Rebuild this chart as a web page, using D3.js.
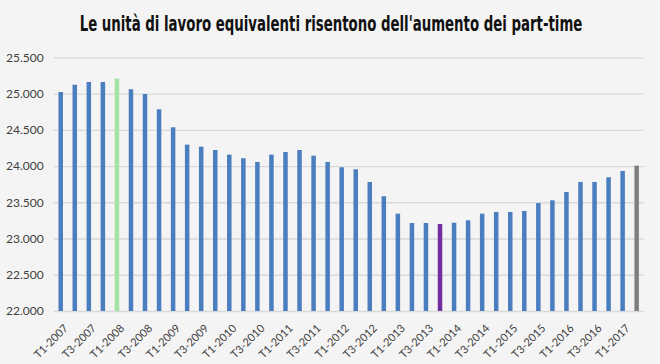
<!DOCTYPE html>
<html>
<head>
<meta charset="utf-8">
<script src="https://cdn.jsdelivr.net/npm/d3@7"></script>
<style>
  body { margin: 0; background: #f4f4f4; }
  svg { display: block; }
</style>
</head>
<body>
<div id="graph"></div>
<script>
// data
var quarters = [
  "T1-2007", "T2-2007", "T3-2007", "T4-2007",
  "T1-2008", "T2-2008", "T3-2008", "T4-2008",
  "T1-2009", "T2-2009", "T3-2009", "T4-2009",
  "T1-2010", "T2-2010", "T3-2010", "T4-2010",
  "T1-2011", "T2-2011", "T3-2011", "T4-2011",
  "T1-2012", "T2-2012", "T3-2012", "T4-2012",
  "T1-2013", "T2-2013", "T3-2013", "T4-2013",
  "T1-2014", "T2-2014", "T3-2014", "T4-2014",
  "T1-2015", "T2-2015", "T3-2015", "T4-2015",
  "T1-2016", "T2-2016", "T3-2016", "T4-2016",
  "T1-2017", "T2-2017"
];
var ula = [
  25021, 25122, 25159, 25159,
  25205, 25059, 24994, 24783,
  24534, 24295, 24267, 24221,
  24157, 24107, 24056, 24157,
  24194, 24221, 24143, 24056,
  23983, 23955, 23780, 23583,
  23343, 23214, 23214, 23200,
  23218, 23251, 23343, 23366,
  23366, 23380, 23489, 23527,
  23642, 23780, 23780, 23845,
  23932, 24005
];
// highlighted quarters: peak, trough, latest
var highlight = { "T1-2008": "#a3e4a0", "T4-2013": "#7030a0", "T2-2017": "#7f7f7f" };
var yTicks = [22000, 22500, 23000, 23500, 24000, 24500, 25000, 25500];
var title = "Le unità di lavoro equivalenti risentono dell'aumento dei part-time";

//measurements
var width = 660;
var height = 364;
var plot = { left: 53.7, right: 643.7, top: 57.3, bottom: 311 };
var itFormat = d3.formatLocale({ decimal: ",", thousands: ".", grouping: [3], currency: ["€", ""] }).format(",.0f");

var chart = d3.select("#graph").append("svg")
    .attr("width", width)
    .attr("height", height);

chart.append("rect")
    .attr("width", width)
    .attr("height", height)
    .attr("fill", "#f4f4f4");

// title: squeeze horizontally to get the condensed look
var titleText = chart.append("text")
    .attr("text-anchor", "middle")
    .style("font-family", "'DejaVu Sans Condensed', 'Liberation Sans Narrow', sans-serif")
    .style("font-weight", "bold")
    .style("font-size", "21px")
    .style("fill", "#111")
    .text(title);
var titleW = titleText.node().getComputedTextLength();
titleText.attr("transform", "translate(331,31) scale(" + (503 / titleW) + ",1)");

var xScale = d3.scaleBand()
    .domain(quarters)
    .range([plot.left, plot.right])
    .paddingInner(0.68)
    .paddingOuter(0.34);

var yScale = d3.scaleLinear()
    .domain([22000, 25500])
    .range([plot.bottom, plot.top]);

// grid lines
var yAxis = d3.axisLeft(yScale)
    .tickValues(yTicks)
    .tickSize(-(plot.right - plot.left))
    .tickPadding(10)
    .tickFormat(itFormat);

var yAxisContainer = chart.append("g")
    .attr("transform", "translate(" + plot.left + ",0)")
    .call(yAxis);
yAxisContainer.select(".domain").remove();
yAxisContainer.selectAll(".tick line")
    .attr("stroke", "#d9d9d9")
    .attr("stroke-width", 1.3);
yAxisContainer.selectAll(".tick text")
    .style("font-family", "Lato, 'Open Sans', sans-serif")
    .style("font-size", "12px")
    .style("fill", "#404040");

// bars
chart.append("g").selectAll(".bar")
    .data(ula)
    .enter().append("rect")
      .attr("class", "bar")
      .attr("x", function (d, i) { return xScale(quarters[i]); })
      .attr("width", xScale.bandwidth())
      .attr("y", function (d) { return yScale(d); })
      .attr("height", function (d) { return yScale(22000) - yScale(d); })
      .style("fill", function (d, i) { return highlight[quarters[i]] || "#4a7ebf"; });

// x axis
var xAxis = d3.axisBottom(xScale)
    .tickValues(quarters.filter(function (q, i) { return i % 2 === 0; }))
    .tickSize(0)
    .tickPadding(0);

var xAxisContainer = chart.append("g")
    .attr("transform", "translate(0," + plot.bottom + ")")
    .call(xAxis);
xAxisContainer.select(".domain").remove();
xAxisContainer.selectAll(".tick text")
    .attr("text-anchor", "end")
    .attr("dy", null)
    .attr("y", 0)
    .attr("transform", "translate(8,18) rotate(-45)")
    .style("font-family", "Lato, 'Open Sans', sans-serif")
    .style("font-size", "11px")
    .style("fill", "#404040");
</script>
</body>
</html>
